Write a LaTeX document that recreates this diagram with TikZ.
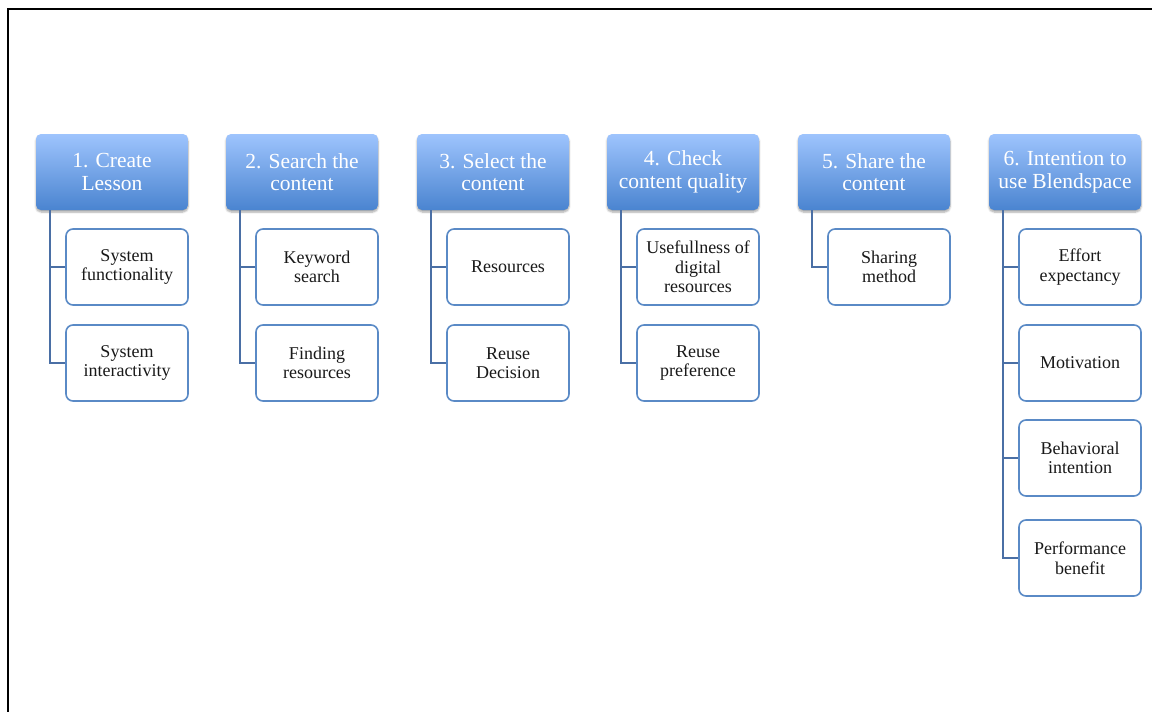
\documentclass[tikz,border=0pt]{standalone}
\usepackage{fontspec}
\setmainfont{Liberation Serif}
\usetikzlibrary{shadows.blur}
\definecolor{hdtop}{HTML}{9EC4FD}
\definecolor{hdbot}{HTML}{4A84D0}
\definecolor{linkc}{HTML}{4A6FA5}
\definecolor{boxc}{HTML}{5A8AC6}
\tikzset{
  hdr/.style={rounded corners=5pt, minimum width=152pt, minimum height=76pt,
    top color=hdtop, bottom color=hdbot, draw=none, text=white, align=center,
    font=\fontsize{21.5}{22.5}\selectfont, inner sep=0pt,
    blur shadow={shadow xshift=0pt, shadow yshift=-2pt, shadow blur steps=6, shadow opacity=35}},
  child/.style={rounded corners=7pt, minimum width=122pt, minimum height=76pt,
    draw=boxc, line width=1.6pt, fill=white, align=center, text=black!90,
    font=\fontsize{18}{19.5}\selectfont, inner sep=0pt},
  link/.style={draw=linkc, line width=1.6pt}
}
\begin{document}
\begin{tikzpicture}[x=1pt,y=-1pt]
\useasboundingbox (0,0) rectangle (1152,712);
\draw[line width=2pt, line cap=rect] (8,712) -- (8,9) -- (1152,9);

% headers
\node[hdr] (h1) at (112,172) {1. Create\\Lesson};
\node[hdr] (h2) at (302,172) {2. Search the\\content};
\node[hdr] (h3) at (493,172) {3. Select the\\content};
\node[hdr] (h4) at (683,172) {4. Check\\content quality};
\node[hdr] (h5) at (874,172) {5. Share the\\content};
\node[hdr] (h6) at (1065,172) {6. Intention to\\use Blendspace};

% children
\node[child] (c11) at (127,267) {System\\functionality};
\node[child] (c12) at (127,363) {System\\interactivity};
\node[child] (c21) at (317,267) {Keyword\\search};
\node[child] (c22) at (317,363) {Finding\\resources};
\node[child] (c31) at (508,267) {Resources};
\node[child] (c32) at (508,363) {Reuse\\Decision};
\node[child] (c41) at (698,267) {Usefullness of\\digital\\resources};
\node[child] (c42) at (698,363) {Reuse\\preference};
\node[child] (c51) at (889,267) {Sharing\\method};
\node[child] (c61) at (1080,267) {Effort\\expectancy};
\node[child] (c62) at (1080,363) {Motivation};
\node[child] (c63) at (1080,458) {Behavioral\\intention};
\node[child] (c64) at (1080,558) {Performance\\benefit};

% connectors
\foreach \h/\c in {h1/c11,h1/c12,h2/c21,h2/c22,h3/c31,h3/c32,h4/c41,h4/c42,h5/c51,h6/c61,h6/c62,h6/c63,h6/c64}{
  \draw[link] ([xshift=14pt]\h.south west) |- (\c.west);
}
\end{tikzpicture}
\end{document}
